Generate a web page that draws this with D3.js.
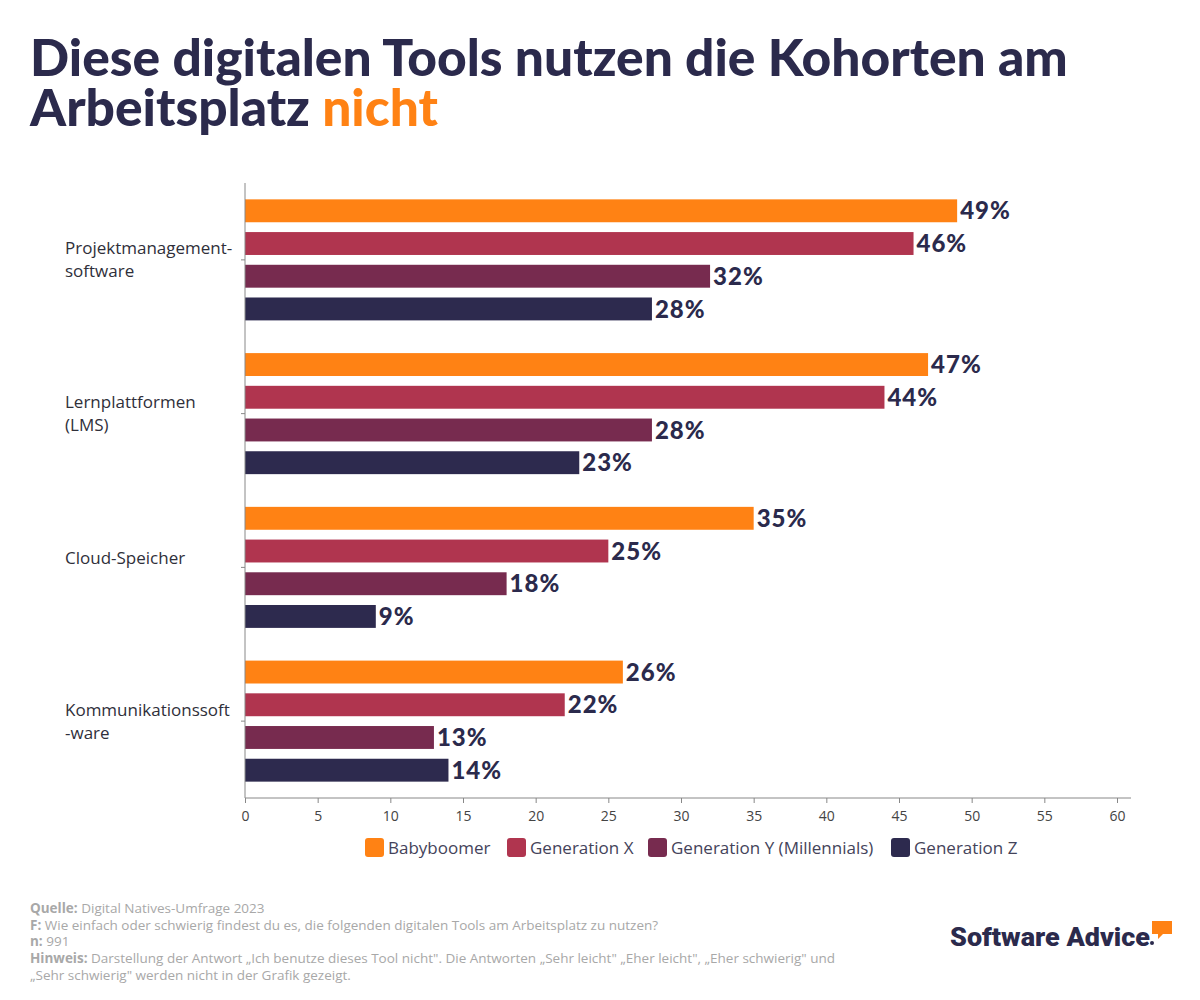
<!DOCTYPE html>
<html><head><meta charset="utf-8">
<script src="https://cdn.jsdelivr.net/npm/d3@7"></script>
<style>
body{margin:0;background:#fff;}
svg{display:block;font-family:"Open Sans",Lato,sans-serif;}
</style></head>
<body><svg id="c" width="1200" height="1000"></svg>
<script>
const categories = ["Projektmanagement-\nsoftware","Lernplattformen\n(LMS)","Cloud-Speicher","Kommunikationssoft\n-ware"];
const seriesNames = ["Babyboomer","Generation X","Generation Y (Millennials)","Generation Z"];
const babyboomer = [49,47,35,26];
const generationX = [46,44,25,22];
const generationY = [32,28,18,13];
const generationZ = [28,23,9,14];
const xTicks = [0,5,10,15,20,25,30,35,40,45,50,55,60];
const colors = ["#FF8214","#B0354F","#772B4F","#2D2A4E"];
const seriesValues = [babyboomer, generationX, generationY, generationZ];

(function(){
const svg = d3.select("#c");
const navy = "#2B2A4C";
const body = "'Open Sans', Lato, sans-serif";

// Title (two separate lines)
svg.append("text").attr("x",30).attr("y",76).attr("font-family","Lato, sans-serif").attr("font-weight",900)
  .attr("font-size",51.5).attr("fill",navy).text("Diese digitalen Tools nutzen die Kohorten am");
const t2 = svg.append("text").attr("x",30).attr("y",126).attr("font-family","Lato, sans-serif").attr("font-weight",900)
  .attr("font-size",51.5).attr("fill",navy);
t2.append("tspan").text("Arbeitsplatz ");
t2.append("tspan").attr("fill","#FF8214").text("nicht");

const pLeft=245, pRight=1131, pTop=183, pBottom=798;
const x = d3.scaleLinear().domain([0,60]).range([pLeft,1117]);
const y = d3.scaleBand().domain(categories).range([pTop,pBottom]).padding(0);
const yi = d3.scaleBand().domain(d3.range(4)).range([0,y.bandwidth()]).paddingInner(0.3).paddingOuter(0.5);

// bars
categories.forEach((c,ci)=>{
  const g = svg.append("g").attr("transform",`translate(0,${y(c)})`);
  seriesValues.forEach((vals,si)=>{
    g.append("rect").attr("x",x(0)).attr("y",yi(si)).attr("width",x(vals[ci])-x(0)).attr("height",yi.bandwidth()).attr("fill",colors[si]);
    g.append("text").attr("x",x(vals[ci])+3).attr("y",yi(si)+yi.bandwidth()/2).attr("dy","0.36em")
      .attr("font-family","Lato, sans-serif").attr("font-weight",900).attr("font-size",24).attr("letter-spacing",1)
      .attr("fill",navy).text(vals[ci]+"%");
  });
});

// x axis
const xa = svg.append("g").attr("transform",`translate(0,${pBottom})`)
  .call(d3.axisBottom(x).tickValues(xTicks).tickSize(5).tickSizeOuter(0));
xa.select(".domain").attr("d",`M${pLeft},0H${pRight}`).attr("stroke","#888");
xa.selectAll(".tick line").attr("stroke","#888");
xa.selectAll(".tick text").attr("font-size",14).attr("fill","#444").attr("dy","1.05em").attr("font-family",body);

// y axis
const ya = svg.append("g").attr("transform",`translate(${pLeft},0)`).call(d3.axisLeft(y).tickSize(4).tickFormat(""));
ya.select(".domain").attr("d",`M0,${pTop}V${pBottom}`).attr("stroke","#888");
ya.selectAll(".tick line").attr("stroke","#888");
categories.forEach(c=>{
  const lines = c.split("\n");
  const cy = y(c)+y.bandwidth()/2;
  const tx = svg.append("text").attr("font-size",17).attr("fill","#2f2f3a").attr("font-family",body);
  const base = lines.length>1 ? cy - 11.5 + 6 : cy - 3;
  lines.forEach((l,i)=>{
    tx.append("tspan").attr("x",65).attr("y",base + i*23).text(l);
  });
});

// legend
const legX = [365,507,648,891];
seriesNames.forEach((n,i)=>{
  svg.append("rect").attr("x",legX[i]).attr("y",838).attr("width",19).attr("height",19).attr("rx",3).attr("fill",colors[i]);
  svg.append("text").attr("x",legX[i]+23).attr("y",854).attr("font-size",17).attr("fill","#44435a").attr("font-family",body).text(n);
});

// footer
const foot = [
  ["Quelle:"," Digital Natives-Umfrage 2023"],
  ["F:"," Wie einfach oder schwierig findest du es, die folgenden digitalen Tools am Arbeitsplatz zu nutzen?"],
  ["n:"," 991"],
  ["Hinweis:"," Darstellung der Antwort „Ich benutze dieses Tool nicht\". Die Antworten „Sehr leicht\" „Eher leicht\", „Eher schwierig\" und"],
  ["","„Sehr schwierig\" werden nicht in der Grafik gezeigt."]
];
foot.forEach((f,i)=>{
  const tt = svg.append("text").attr("x",30).attr("y",913+i*16.7).attr("font-size",13.5).attr("fill","#a8a8a8").attr("font-family",body);
  if(f[0]) tt.append("tspan").attr("font-weight",700).text(f[0]);
  tt.append("tspan").text(f[1]);
});

// logo
svg.append("text").attr("x",950).attr("y",946).attr("font-family","Roboto, sans-serif").attr("font-weight",900)
  .attr("font-size",25).attr("fill",navy).attr("textLength",200).attr("lengthAdjust","spacingAndGlyphs").text("Software Advice");
svg.append("circle").attr("cx",1152).attr("cy",943).attr("r",2).attr("fill",navy);
svg.append("path").attr("d","M1152,921H1172V934H1163L1158,939V934H1152Z").attr("fill","#FF8214");
})();
</script></body></html>
